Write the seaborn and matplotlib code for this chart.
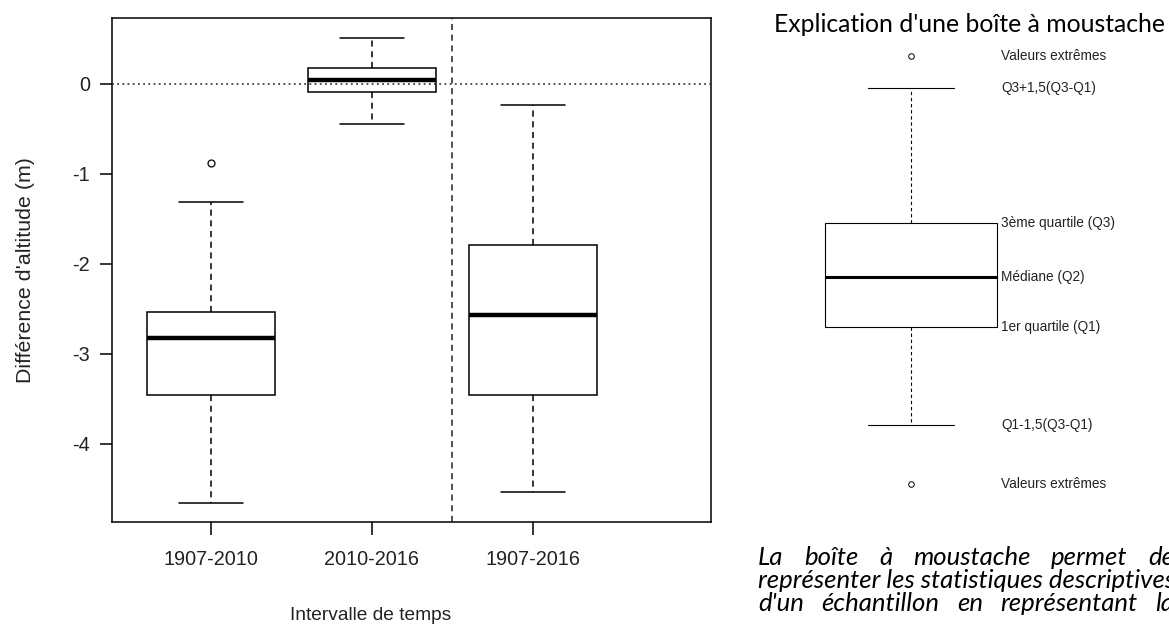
import matplotlib
matplotlib.use("Agg")
import matplotlib.pyplot as plt
import pandas as pd
import seaborn as sns

# Statistiques (différence d'altitude en m)
intervalles = ["1907-2010", "2010-2016", "1907-2016"]
moust_basse = [-4.66, -0.45, -4.54]
q1 = [-3.46, -0.09, -3.46]
mediane = [-2.83, 0.04, -2.57]
q3 = [-2.54, 0.17, -1.79]
moust_haute = [-1.31, 0.51, -0.24]
extremes = [[-0.88], [], []]
yticks = [0, -1, -2, -3, -4]

# Boîte schématique (unités arbitraires)
schema_extremes = [1.6, 44.4]
schema_bas = 7.5
schema_q1 = 17.3
schema_med = 22.3
schema_q3 = 27.7
schema_haut = 41.2
schema_labels = ["Valeurs extrêmes", "Q3+1,5(Q3-Q1)", "3ème quartile (Q3)",
                 "Médiane (Q2)", "1er quartile (Q1)", "Q1-1,5(Q3-Q1)", "Valeurs extrêmes"]

texte_lignes = [
    "La boîte à moustache permet de",
    "représenter les statistiques descriptives",
    "d'un échantillon en représentant la",
]


def valeurs(lo, a, m, b, hi, out):
    # échantillon minimal qui redonne exactement les quartiles lus
    return [lo, a, a, m, m, b, b, hi] + list(out)


rows = []
for i, nom in enumerate(intervalles):
    for v in valeurs(moust_basse[i], q1[i], mediane[i], q3[i], moust_haute[i], extremes[i]):
        rows.append({"intervalle": nom, "diff": v})
df = pd.DataFrame(rows)

schema = pd.DataFrame({"v": valeurs(schema_bas, schema_q1, schema_med, schema_q3,
                                    schema_haut, schema_extremes)})

sns.set_theme(style="ticks")
plt.rcParams["font.family"] = ["Liberation Sans", "DejaVu Sans"]
plt.rcParams["axes.unicode_minus"] = False

W, H = 1169, 626
fig = plt.figure(figsize=(W / 100, H / 100), dpi=100)

# 1. Graphique principal
ax = fig.add_axes([112 / W, 1 - 522 / H, 599 / W, 504 / H])
sns.boxplot(data=df, x="intervalle", y="diff", order=intervalles, ax=ax,
            color="white", linecolor="black", linewidth=1.1, width=0.8, whis=1.5,
            whiskerprops={"linestyle": (0, (4, 3))},
            medianprops={"linewidth": 3.2},
            flierprops={"marker": "o", "markersize": 5, "markerfacecolor": "none",
                        "markeredgecolor": "black", "markeredgewidth": 0.9})
ax.axhline(0, color="#222222", lw=1.1, ls=(0, (1.2, 2.2)), zorder=5)
ax.axvline(len(intervalles) - 1.5, color="#222222", lw=1.1, ls=(0, (4, 3)), zorder=5)
ax.set_xlim(-0.615, 3.106)
ax.set_ylim(-4.87, 0.73)
ax.set_yticks(yticks)
ax.set_yticklabels([str(t) for t in yticks])
for s in ax.spines.values():
    s.set_color("black")
    s.set_linewidth(1.1)
ax.tick_params(axis="both", direction="out", length=9, width=1.1, colors="black",
               labelsize=14.3, labelcolor="#222222")
ax.tick_params(axis="x", pad=11)
ax.tick_params(axis="y", pad=7)
ax.set_xlabel("Intervalle de temps", fontsize=13.8, color="#222222")
ax.set_ylabel("Différence d'altitude (m)", fontsize=15.4, color="#222222")
ax.xaxis.set_label_coords(0.431, -0.168)
ax.yaxis.set_label_coords(-0.128, 0.5)

# 2. Explication d'une boîte à moustache
ax2 = fig.add_axes([804 / W, 1 - 500 / H, 214 / W, 500 / H])
sns.boxplot(data=schema, y="v", ax=ax2, color="white", linecolor="black",
            linewidth=0.8, width=0.8, whis=1.5,
            whiskerprops={"linestyle": (0, (3, 2.5))},
            medianprops={"linewidth": 2.2},
            flierprops={"marker": "o", "markersize": 4, "markerfacecolor": "none",
                        "markeredgecolor": "black", "markeredgewidth": 0.7})
ax2.set_xlim(-0.5, 0.5)
ax2.set_ylim(0, 50)
ax2.axis("off")
positions = [schema_extremes[1], schema_haut, schema_q3, schema_med, schema_q1,
             schema_bas, schema_extremes[0]]
for lab, yv in zip(schema_labels, positions):
    ax2.text(0.42, yv, lab, ha="left", va="center", fontsize=9.8, color="#222222",
             clip_on=False)

fig.text(970 / W, 1 - 24 / H, "Explication d'une boîte à moustache", ha="center",
         va="center", fontsize=17.8, family=["Lato", "DejaVu Sans"], color="black")

# Paragraphe justifié, coupé par le bord droit et le bas de l'image
para_kw = dict(ha="left", va="baseline", fontsize=18.5, style="italic",
               family=["Lato", "DejaVu Sans"], color="black")
renderer = fig.canvas.get_renderer()
x_gauche = 758
lignes_y = [565, 588, 611]
x_dernier_mot = [1148, None, 1155]
for ligne, yb, x_fin in zip(texte_lignes, lignes_y, x_dernier_mot):
    if x_fin is None:
        fig.text(x_gauche / W, 1 - yb / H, ligne, **para_kw)
        continue
    mots = ligne.split()
    objs = [fig.text(0, 1 - yb / H, m, **para_kw) for m in mots]
    larg = [o.get_window_extent(renderer).width for o in objs]
    gap = (x_fin - x_gauche - sum(larg[:-1])) / (len(mots) - 1)
    x = x_gauche
    for o, w in zip(objs, larg):
        o.set_x(x / W)
        x += w + gap

fig.savefig("out.png", dpi=100)
